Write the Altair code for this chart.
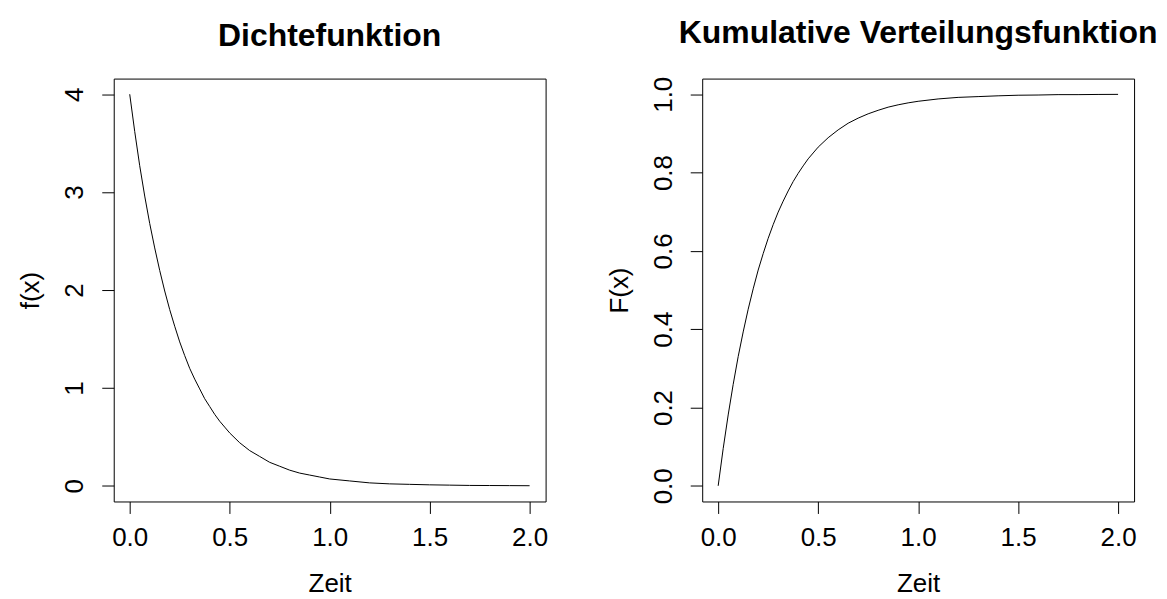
import altair as alt
import pandas as pd

# x positions (Zeit)
zeit = [0.0, 0.025, 0.05, 0.075, 0.1, 0.125, 0.15, 0.175, 0.2, 0.225, 0.25,
        0.275, 0.3, 0.325, 0.35, 0.375, 0.4, 0.425, 0.45, 0.475, 0.5,
        0.55, 0.6, 0.65, 0.7, 0.75, 0.8, 0.85, 0.9, 0.95, 1.0,
        1.1, 1.2, 1.3, 1.4, 1.5, 1.6, 1.7, 1.8, 1.9, 2.0]

# density values
dichte = [4.00, 3.62, 3.27, 2.96, 2.68, 2.43, 2.20, 1.99, 1.80, 1.63, 1.47,
          1.33, 1.20, 1.09, 0.99, 0.89, 0.81, 0.73, 0.66, 0.60, 0.54,
          0.44, 0.36, 0.30, 0.24, 0.20, 0.16, 0.13, 0.11, 0.09, 0.07,
          0.05, 0.03, 0.02, 0.015, 0.01, 0.007, 0.004, 0.003, 0.002, 0.001]

# cumulative values
kumulativ = [0.000, 0.095, 0.181, 0.259, 0.330, 0.393, 0.451, 0.503, 0.551, 0.593, 0.632,
             0.667, 0.699, 0.727, 0.753, 0.777, 0.798, 0.817, 0.835, 0.850, 0.865,
             0.889, 0.909, 0.926, 0.939, 0.950, 0.959, 0.967, 0.973, 0.978, 0.982,
             0.988, 0.992, 0.994, 0.996, 0.9975, 0.998, 0.999, 0.999, 0.9995, 0.9997]

x_ticks = [0.0, 0.5, 1.0, 1.5, 2.0]
y_ticks_left = [0, 1, 2, 3, 4]
y_ticks_right = [0.0, 0.2, 0.4, 0.6, 0.8, 1.0]

df = pd.DataFrame({"Zeit": zeit, "f": dichte, "F": kumulativ})

FONT = "Liberation Sans"
W, H = 433, 424
FS = 26

xaxis = alt.Axis(values=x_ticks, format=".1f", title="Zeit", grid=False, domain=False,
                 tickSize=12, tickColor="black", tickWidth=1, labelFontSize=FS, labelFont=FONT,
                 labelColor="black", labelPadding=11, titleFontSize=FS, titleFont=FONT,
                 titleFontWeight="normal", titleColor="black", titlePadding=20, labelFlush=False)


def yaxis(values, fmt, title):
    return alt.Axis(values=values, format=fmt, title=title, grid=False, domain=False,
                    tickSize=12, tickColor="black", tickWidth=1, labelFontSize=FS, labelFont=FONT,
                    labelColor="black", labelAngle=270, labelAlign="center",
                    labelBaseline="bottom", labelPadding=14, labelFlush=False,
                    titleFontSize=FS, titleFont=FONT, titleFontWeight="normal",
                    titleColor="black", titlePadding=18)


def panel(field, values, fmt, ytitle, ydomain, title):
    return alt.Chart(df).mark_line(color="black", strokeWidth=1).encode(
        x=alt.X("Zeit:Q", scale=alt.Scale(domain=[-0.08, 2.08], nice=False, zero=False), axis=xaxis),
        y=alt.Y(f"{field}:Q", scale=alt.Scale(domain=ydomain, nice=False, zero=False),
                axis=yaxis(values, fmt, ytitle)),
    ).properties(
        width=W, height=H,
        title=alt.TitleParams(title, fontSize=32, font=FONT, fontWeight="bold", color="black",
                              anchor="middle", frame="group", offset=26),
    )


left = panel("f", y_ticks_left, "d", "f(x)", [-0.16, 4.16], "Dichtefunktion")
right = panel("F", y_ticks_right, ".1f", "F(x)", [-0.04, 1.04], "Kumulative Verteilungsfunktion")

chart = alt.hconcat(left, right, spacing=57).properties(
    padding={"left": 9, "top": 8, "right": 0, "bottom": 0},
    background="white",
).configure_view(stroke="black", strokeWidth=1, strokeOpacity=1)

chart.save("out.html", embed_options={"renderer": "svg", "actions": False})
